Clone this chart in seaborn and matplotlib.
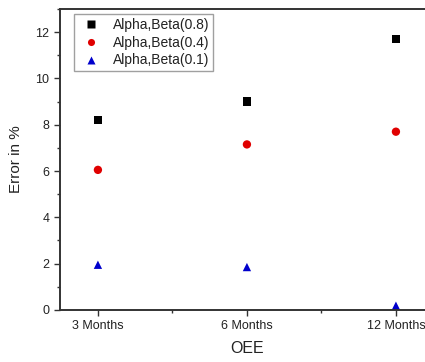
import matplotlib
matplotlib.use("Agg")
import matplotlib.pyplot as plt
from matplotlib.ticker import MultipleLocator, FixedLocator
import seaborn as sns
import pandas as pd

periods = ["3 Months", "6 Months", "12 Months"]
series_names = ["Alpha,Beta(0.8)", "Alpha,Beta(0.4)", "Alpha,Beta(0.1)"]
beta_08 = [8.2, 9.0, 11.7]
beta_04 = [6.05, 7.15, 7.7]
beta_01 = [1.95, 1.85, 0.18]

rows = []
for name, vals in zip(series_names, [beta_08, beta_04, beta_01]):
    for p, v in zip(periods, vals):
        rows.append({"OEE": p, "Error": v, "Series": name})
df = pd.DataFrame(rows)

sns.set_style("ticks")
plt.rcParams["font.family"] = ["Liberation Sans", "DejaVu Sans"]

fig = plt.figure(figsize=(4.25, 3.62), dpi=100)
ax = fig.add_axes([0.141, 0.144, 0.88, 0.831])

palette = {series_names[0]: "#000000", series_names[1]: "#e00000", series_names[2]: "#0000cc"}
markers = {series_names[0]: "s", series_names[1]: "o", series_names[2]: "^"}
sns.scatterplot(data=df, x="OEE", y="Error", hue="Series", style="Series",
                palette=palette, markers=markers, s=36, edgecolor="none", ax=ax)

ax.set_xlim(-0.255, 2.255)
ax.set_ylim(0, 13)
ax.yaxis.set_major_locator(MultipleLocator(2))
ax.yaxis.set_minor_locator(MultipleLocator(1))
ax.xaxis.set_minor_locator(FixedLocator([0.5, 1.5]))

for s in ax.spines.values():
    s.set_color("#333333")
    s.set_linewidth(1.4)
ax.tick_params(which="major", direction="out", length=4, width=1.0, color="#333333",
               labelsize=9, labelcolor="#222222")
ax.tick_params(which="minor", direction="out", length=2.5, width=1.0, color="#333333")

ax.set_xlabel("OEE", fontsize=11.5, color="#222222", labelpad=6)
ax.set_ylabel("Error in %", fontsize=11, color="#222222", labelpad=9)

handles, labels = ax.get_legend_handles_labels()
leg = ax.legend(handles, labels, loc="upper left", bbox_to_anchor=(0.037, 0.983),
                borderaxespad=0, fontsize=10, frameon=True, fancybox=False,
                borderpad=0.25, labelspacing=0.28, handletextpad=0.55, markerscale=0.85)
leg.get_frame().set_edgecolor("#888888")
leg.get_frame().set_linewidth(1.0)
for t in leg.get_texts():
    t.set_color("#222222")

fig.savefig("out.png", dpi=100)
